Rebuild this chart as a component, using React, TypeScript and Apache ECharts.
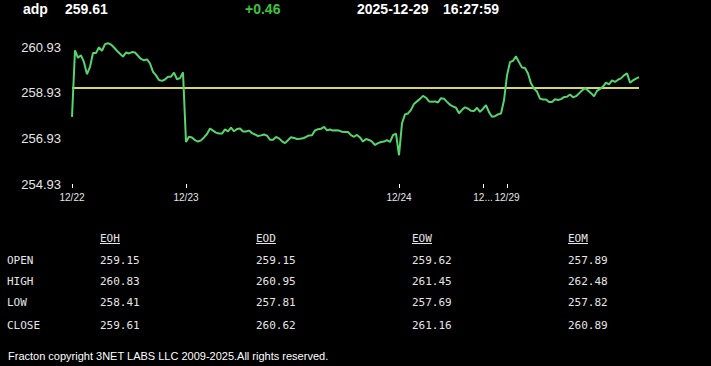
import React, { useEffect, useRef } from "react";
import * as echarts from "echarts";

// ---- header ----
const symbolName = "adp";
const lastPrice = "259.61";
const priceChange = "+0.46";
const quoteDate = "2025-12-29";
const quoteTime = "16:27:59";

// ---- chart data ----
const prices: number[] = [
  257.87, 260.79, 260.46, 260.57, 260.27, 259.74, 260.06, 260.67, 260.67, 260.92,
  260.77, 261.06, 261.1, 261.04, 260.91, 260.77, 260.64, 260.51, 260.69, 260.65,
  260.71, 260.69, 260.55, 260.41, 260.35, 260.39, 260.21, 259.84, 259.69, 259.49,
  259.45, 259.51, 259.63, 259.63, 259.81, 259.52, 259.57, 259.82, 256.77, 257.0,
  256.97, 256.85, 256.79, 256.84, 256.97, 257.12, 257.36, 257.27, 257.18, 257.14,
  257.14, 257.32, 257.24, 257.4, 257.24, 257.34, 257.36, 257.23, 257.23, 257.27,
  257.16, 257.1, 257.03, 257.06, 257.1, 257.05, 256.87, 256.87, 256.99, 256.93,
  256.8, 256.72, 256.85, 256.98, 256.95, 256.9, 256.91, 256.93, 256.99, 257.06,
  257.07, 257.28, 257.33, 257.35, 257.43, 257.28, 257.32, 257.27, 257.28, 257.27,
  257.22, 257.21, 257.21, 257.07, 257.0, 257.08, 256.97, 256.79, 256.9, 256.86,
  256.79, 256.64, 256.72, 256.77, 256.79, 256.85, 256.77, 257.07, 257.14, 256.19,
  257.59, 257.98, 258.02, 258.18, 258.44, 258.55, 258.66, 258.79, 258.71, 258.55,
  258.53, 258.55, 258.5, 258.69, 258.67, 258.53, 258.4, 258.33, 258.27, 258.03,
  258.18, 258.29, 258.23, 258.14, 258.13, 258.27, 258.09, 258.23, 258.38, 258.08,
  257.88, 257.9, 257.98, 258.02, 258.6, 259.69, 260.27, 260.33, 260.52, 260.27,
  260.03, 260.01, 259.77, 259.34, 259.11, 258.98, 258.67, 258.63, 258.63, 258.52,
  258.52, 258.64, 258.61, 258.65, 258.74, 258.75, 258.85, 258.73, 258.78, 258.9,
  259.03, 259.14, 259.03, 258.91, 258.77, 259.01, 259.1, 259.2, 259.37, 259.3,
  259.47, 259.4, 259.5, 259.56, 259.69, 259.78, 259.37, 259.47, 259.55, 259.61,
];
const dayLabels = ["12/22", "12/23", "12/24", "12/26", "12/29"];
const dayStartIndex = [0, 38, 109, 137, 145];
const previousClose = 259.15;
const yMin = 254.93;
const yMax = 261.24;
const yStep = 2;

// ---- table ----
const tableColumns = ["EOH", "EOD", "EOW", "EOM"];
const rowLabels = ["OPEN", "HIGH", "LOW", "CLOSE"];
const openValues = ["259.15", "259.15", "259.62", "257.89"];
const highValues = ["260.83", "260.95", "261.45", "262.48"];
const lowValues = ["258.41", "257.81", "257.69", "257.82"];
const closeValues = ["259.61", "260.62", "261.16", "260.89"];
const footerText = "Fracton copyright 3NET LABS LLC 2009-2025.All rights reserved.";

export default function App() {
  const ref = useRef<HTMLDivElement>(null);

  useEffect(() => {
    document.body.style.margin = "0";
    document.body.style.background = "#000";
    if (!ref.current) return;
    const chart = echarts.init(ref.current, null, { renderer: "svg" });

    const categories = prices.map((_, i) => String(i));
    const isDayStart = (i: number) => dayStartIndex.indexOf(i) >= 0;

    const sans = "'Liberation Sans', Arial, sans-serif";
    const mono = "'DejaVu Sans Mono', monospace";
    const headerFont = `bold 14px ${sans}`;
    const tableFont = `11px ${mono}`;
    const tableColor = "#e6e6e6";

    const graphic: any[] = [];
    const headerItems = [
      { text: symbolName, x: 23, fill: "#ffffff" },
      { text: lastPrice, x: 65, fill: "#ffffff" },
      { text: priceChange, x: 245, fill: "#3cc43c" },
      { text: quoteDate, x: 357, fill: "#ffffff" },
      { text: quoteTime, x: 443, fill: "#ffffff" },
    ];
    headerItems.forEach((h) =>
      graphic.push({
        type: "text",
        x: h.x,
        y: 8.5,
        style: { text: h.text, fill: h.fill, font: headerFont, align: "left", verticalAlign: "middle" },
      })
    );

    const colX = [100, 256, 412, 568];
    const rowY = [260.3, 281, 302.7, 325];
    const rows = [openValues, highValues, lowValues, closeValues];
    tableColumns.forEach((c, ci) => {
      graphic.push({
        type: "text",
        x: colX[ci],
        y: 238.8,
        style: { text: c, fill: tableColor, font: tableFont, align: "left", verticalAlign: "middle" },
      });
      graphic.push({
        type: "line",
        shape: { x1: colX[ci], y1: 243.5, x2: colX[ci] + 20, y2: 243.5 },
        style: { stroke: tableColor, lineWidth: 1 },
      });
    });
    rowLabels.forEach((r, ri) => {
      graphic.push({
        type: "text",
        x: 7,
        y: rowY[ri],
        style: { text: r, fill: tableColor, font: tableFont, align: "left", verticalAlign: "middle" },
      });
      rows[ri].forEach((v, ci) =>
        graphic.push({
          type: "text",
          x: colX[ci],
          y: rowY[ri],
          style: { text: v, fill: tableColor, font: tableFont, align: "left", verticalAlign: "middle" },
        })
      );
    });
    graphic.push({
      type: "text",
      x: 8,
      y: 356,
      style: { text: footerText, fill: "#ffffff", font: `11px ${sans}`, align: "left", verticalAlign: "middle" },
    });

    chart.setOption({
      animation: false,
      backgroundColor: "#000000",
      grid: { left: 72, right: 72, top: 40, bottom: 182, containLabel: false },
      xAxis: {
        type: "category",
        data: categories,
        boundaryGap: false,
        axisLine: { show: false },
        axisTick: {
          show: true,
          interval: (i: number) => isDayStart(i),
          length: 4,
          lineStyle: { color: "#ffffff", width: 1 },
        },
        axisLabel: {
          interval: (i: number) => isDayStart(i),
          color: "#e6e6e6",
          fontSize: 10,
          fontFamily: sans,
          margin: 8,
          formatter: (_v: string, i: number) => {
            const d = dayStartIndex.indexOf(i);
            if (d < 0) return "";
            const label = dayLabels[d];
            const next = dayStartIndex[d + 1];
            if (next !== undefined && next - i < 10) return label.slice(0, 2) + "...";
            return label;
          },
        },
        splitLine: { show: false },
      },
      yAxis: {
        type: "value",
        min: yMin,
        max: yMax,
        interval: yStep,
        axisLine: { show: false },
        axisTick: { show: false },
        splitLine: { show: false },
        axisLabel: {
          color: "#e6e6e6",
          fontSize: 13,
          fontFamily: sans,
          margin: 11,
          showMaxLabel: false,
          formatter: (v: number) => v.toFixed(2),
        },
      },
      series: [
        {
          type: "line",
          data: prices,
          showSymbol: false,
          symbol: "none",
          lineStyle: { color: "#55d56e", width: 2 },
          z: 3,
          markLine: {
            silent: true,
            symbol: "none",
            label: { show: false },
            lineStyle: { color: "#d9d85e", width: 2, type: "solid" },
            data: [{ yAxis: previousClose }],
            z: 2,
          },
        },
      ],
      graphic,
    });

    return () => chart.dispose();
  }, []);

  return (
    <div
      ref={ref}
      style={{ position: "fixed", left: 0, top: 0, width: 711, height: 366, background: "#000" }}
    />
  );
}
